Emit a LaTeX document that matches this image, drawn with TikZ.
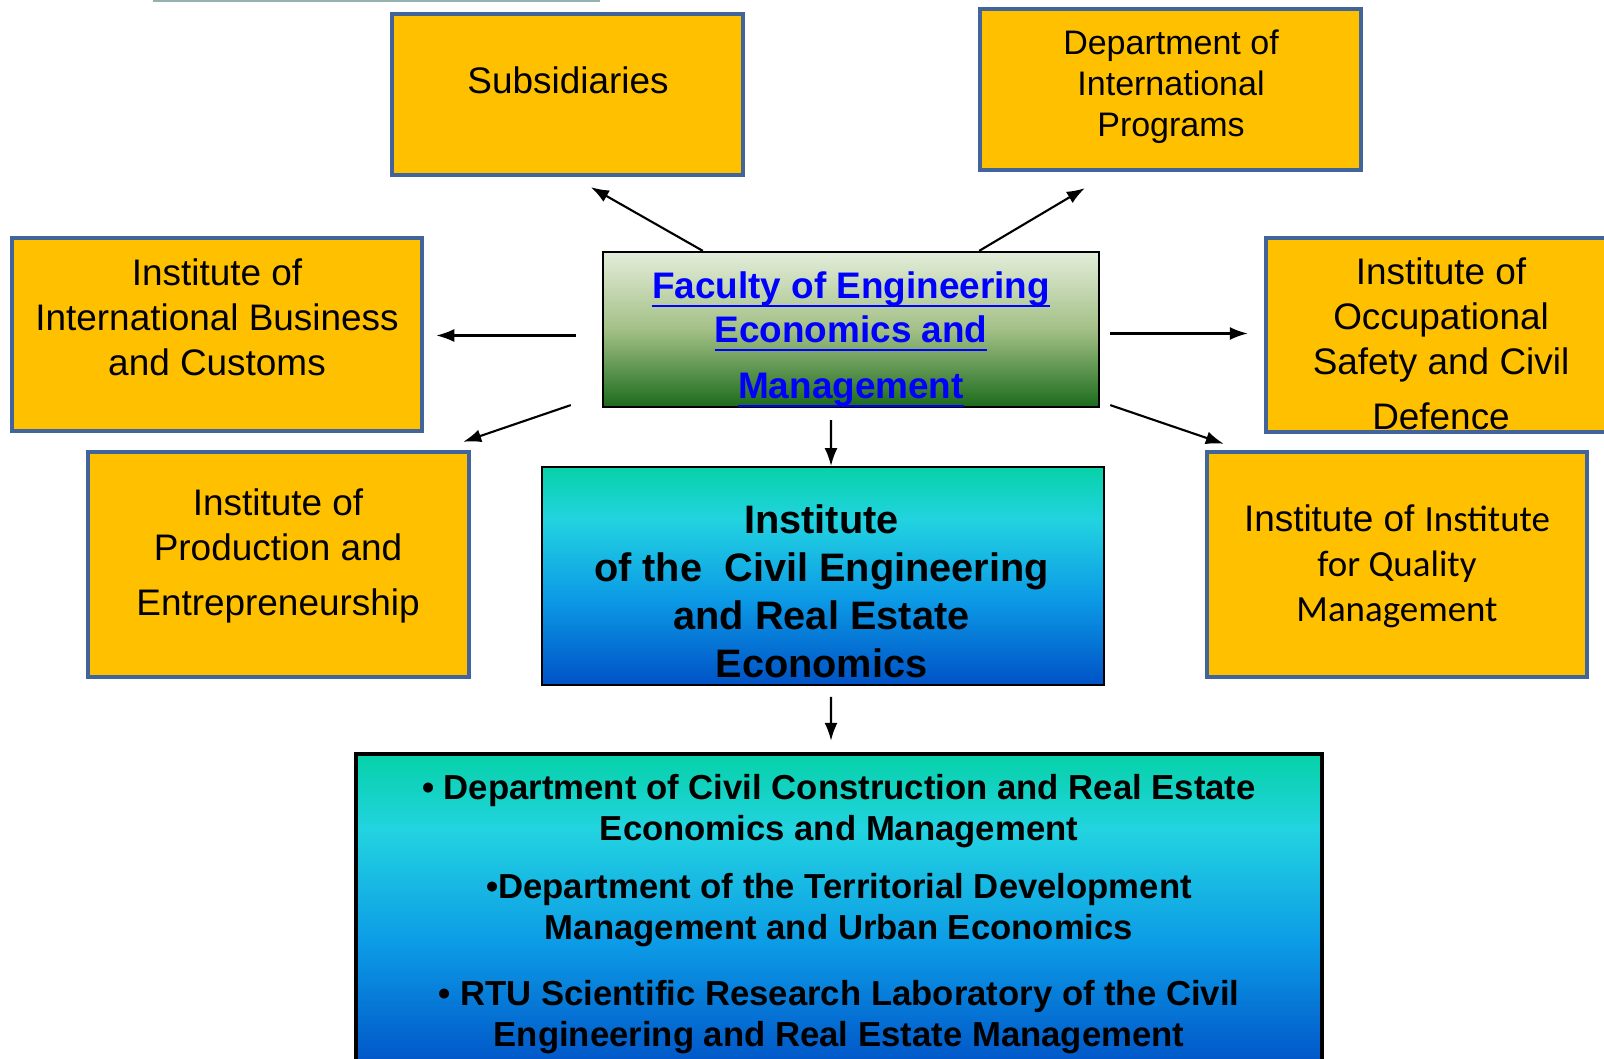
\documentclass[tikz,border=0pt]{standalone}
\usepackage{fontspec}
\setmainfont{Liberation Sans}
\newfontfamily\calibrifont{Carlito}
\usetikzlibrary{arrows.meta,calc,positioning}
\definecolor{boxyellow}{HTML}{FFC000}
\definecolor{boxedge}{HTML}{41649A}
\definecolor{linkblue}{HTML}{0000FF}
\definecolor{facTop}{HTML}{E3EDDA}
\definecolor{facMid}{HTML}{A3C086}
\definecolor{facBot}{HTML}{1B6B1C}
\definecolor{civTeal}{HTML}{06D2A8}
\definecolor{civCyan}{HTML}{22D3E0}
\definecolor{civMid}{HTML}{0C9BE6}
\definecolor{civBlue}{HTML}{0052C6}
\pgfdeclareverticalshading{civshade}{100bp}{color(0bp)=(civBlue); color(25bp)=(civBlue);
  color(45bp)=(civMid); color(63bp)=(civCyan); color(75bp)=(civTeal); color(100bp)=(civTeal)}
\newcommand\linkline[1]{\leavevmode\setbox0\hbox{#1}\rlap{\rule[-2.4pt]{\wd0}{0.7pt}}\box0}
\tikzset{
  ybox/.style={draw=boxedge, line width=1.2pt, fill=boxyellow, inner sep=0pt},
  ytext/.style={align=center, inner sep=0pt, font=\fontsize{10.5}{12.8}\selectfont},
  facbox/.style={draw=black, line width=0.6pt, top color=facTop, bottom color=facBot,
    middle color=facMid, inner sep=0pt},
  factext/.style={align=center, inner sep=0pt, text=linkblue,
    font=\fontsize{10.5}{12.5}\selectfont\bfseries},
  civbox/.style={draw=black, line width=0.5pt, shading=civshade, inner sep=0pt},
  civtext/.style={align=center, inner sep=0pt, font=\fontsize{11.3}{13.66}\selectfont\bfseries},
  bottext/.style={align=center, inner sep=0pt, font=\fontsize{9.87}{11.66}\selectfont\bfseries},
  arr/.style={-{Latex[length=1.8mm,width=1.3mm]}, line width=0.6pt},
  topline/.style={draw=gray!60!teal!60, line width=0.5pt}
}
\begin{document}
\begin{tikzpicture}[x=0.01cm,y=-0.01cm]
  % Page frame
  \useasboundingbox (0,0) rectangle (1604,1058);
  \draw[topline] (153,1) -- (600,1);
  %
  % Yellow boxes
  \node[ybox, minimum width=3.51cm, minimum height=1.61cm] (sub) at (567.5,94.5) {};
  \node[ybox, minimum width=3.81cm, minimum height=1.61cm] (dept) at (1170.5,89.5) {};
  \node[ybox, minimum width=4.10cm, minimum height=1.93cm] (ibus) at (217,334.5) {};
  \node[ybox, minimum width=3.59cm, minimum height=1.94cm] (occ) at (1445.5,335) {};
  \node[ybox, minimum width=3.81cm, minimum height=2.25cm] (prod) at (278.5,564.5) {};
  \node[ybox, minimum width=3.80cm, minimum height=2.25cm] (qual) at (1397,564.5) {};
  %
  % Faculty, institute and departments
  \node[facbox, minimum width=4.96cm, minimum height=1.55cm] (fac) at (851,329.5) {};
  \node[civbox, minimum width=5.62cm, minimum height=2.18cm] (civ) at (823,576) {};
  \node[civbox, draw=black, line width=1.2pt, minimum width=9.66cm, minimum height=3.16cm]
    (bot) at (839,912) {};
  %
  % Texts
  \node[ytext] (subT) at (568,80) {Subsidiaries};
  \node[ytext, font=\fontsize{9.67}{11.65}\selectfont] (deptT) at (1171,87)
    {Department of\\International\\Programs};
  \node[ytext] (ibusT) at (217,317) {Institute of\\International Business\\and Customs};
  \node[ytext] (occT) at (1441,344)
    {Institute of\\Occupational\\Safety and Civil\\[2.8pt]Defence};
  \node[ytext] (prodT) at (278,556) {Institute of\\Production and\\[2.8pt]Entrepreneurship};
  \node[ytext] (qualT) at (1397,566)
    {Institute of {\calibrifont Institute}\\{\calibrifont for Quality}\\{\calibrifont Management}};
  \node[factext] (facT) at (851,339.5)
    {\linkline{Faculty of Engineering}\\\linkline{Economics and}\\[3.4pt]\linkline{Management}};
  \node[civtext] (civT) at (821.5,591)
    {Institute\\of the\ \ Civil Engineering\\and Real Estate\\Economics};
  \node[bottext] (botT) at (839,914)
    {• Department of Civil Construction and Real Estate\\Economics and Management\\[4.8pt]
     •Department of the Territorial Development\\Management and Urban Economics\\[7.2pt]
     • RTU Scientific Research Laboratory of the Civil\\Engineering and Real Estate Management};
  %
  % Connectors
  \draw[arr] ([xshift=1.01cm]fac.north west) -- ([xshift=2.01cm,yshift=-0.1cm]sub.south west);
  \draw[arr] ([xshift=-1.21cm]fac.north east) -- ([xshift=1.07cm,yshift=-0.16cm]dept.south west);
  \draw[arr] ([xshift=-0.26cm,yshift=-0.06cm]fac.west) -- ([xshift=0.12cm,yshift=-0.06cm]fac.west -| ibus.east);
  \draw[arr] ([xshift=0.1cm,yshift=-0.04cm]fac.east) -- ([xshift=-0.16cm,yshift=-0.04cm]fac.east -| occ.west);
  \draw[arr] ([xshift=-0.31cm,yshift=0.03cm]fac.south west) -- ([xshift=-0.08cm,yshift=0.08cm]prod.north east);
  \draw[arr] ([xshift=0.1cm,yshift=0.03cm]fac.south east) -- ([xshift=0.19cm,yshift=0.06cm]qual.north west);
  \draw[arr] ([xshift=-0.2cm,yshift=-0.12cm]fac.south) -- ([xshift=0.08cm]civ.north);
  \draw[arr] ([xshift=0.08cm,yshift=-0.11cm]civ.south) -- ([xshift=-0.08cm,yshift=0.11cm]bot.north);
  %
\end{tikzpicture}
\end{document}
